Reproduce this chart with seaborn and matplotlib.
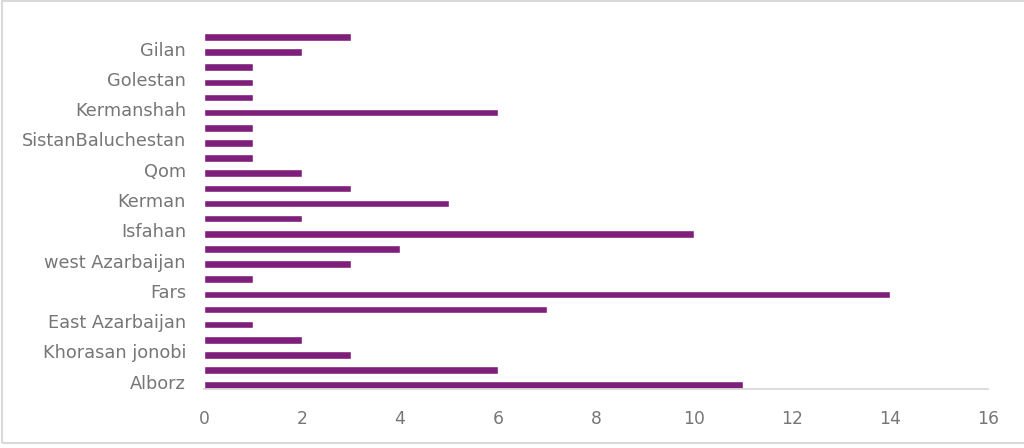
import matplotlib
matplotlib.use("Agg")
import matplotlib.pyplot as plt
import matplotlib.transforms as mtransforms
import seaborn as sns
import pandas as pd
from matplotlib.patches import Rectangle

# Data (top to bottom); every other category label is shown in the original
tick_labels = ["", "Gilan", "", "Golestan", "", "Kermanshah", "", "SistanBaluchestan",
               "", "Qom", "", "Kerman", "", "Isfahan", "", "west Azarbaijan",
               "", "Fars", "", "East Azarbaijan", "", "Khorasan jonobi", "", "Alborz"]
values = [3, 2, 1, 1, 1, 6, 1, 1, 1, 2, 3, 5, 2, 10, 4, 3, 1, 14, 7, 1, 2, 3, 6, 11]
x_ticks = [0, 2, 4, 6, 8, 10, 12, 14, 16]

BAR = "#7f1f7c"
TXT = "#767676"
GRID = "#d9d9d9"

sns.set_theme(style="white")
plt.rcParams["font.family"] = ["DejaVu Sans"]

ids = [f"c{i:02d}" for i in range(len(values))]
df = pd.DataFrame({"cat": ids, "value": values})

fig = plt.figure(figsize=(10.24, 4.48), dpi=100)
ax = fig.add_axes([204 / 1024, 1 - 389 / 448, (988 - 204) / 1024, (389 - 29.4) / 448])

sns.barplot(data=df, x="value", y="cat", order=ids, orient="h", color=BAR,
            width=0.5, saturation=1, ax=ax, errorbar=None)

ax.set_xlim(0, 16)
ax.set_ylim(len(values) - 1 + 0.25, -0.5)
ax.set_xticks(x_ticks)
ax.set_xticklabels([str(t) for t in x_ticks])
ax.set_yticks(range(len(values)))
ax.set_yticklabels(tick_labels)
ax.set_xlabel("")
ax.set_ylabel("")

for s in ["top", "right", "left"]:
    ax.spines[s].set_visible(False)
ax.spines["bottom"].set_color(GRID)
ax.spines["bottom"].set_linewidth(1.3)

ax.tick_params(axis="y", length=0, pad=13, labelsize=12.8, labelcolor=TXT)
ax.tick_params(axis="x", length=0, pad=15, labelsize=12.3, labelcolor=TXT)

shift = mtransforms.ScaledTranslation(0, 3.5 / 100, fig.dpi_scale_trans)
for lbl in ax.get_yticklabels():
    lbl.set_transform(lbl.get_transform() + shift)

# outer chart border
fig.patches.append(Rectangle((2 / 1024, 5 / 448), 1.05, 442 / 448, transform=fig.transFigure,
                             fill=False, edgecolor=GRID, linewidth=1.5))

fig.savefig("out.png", dpi=100)
